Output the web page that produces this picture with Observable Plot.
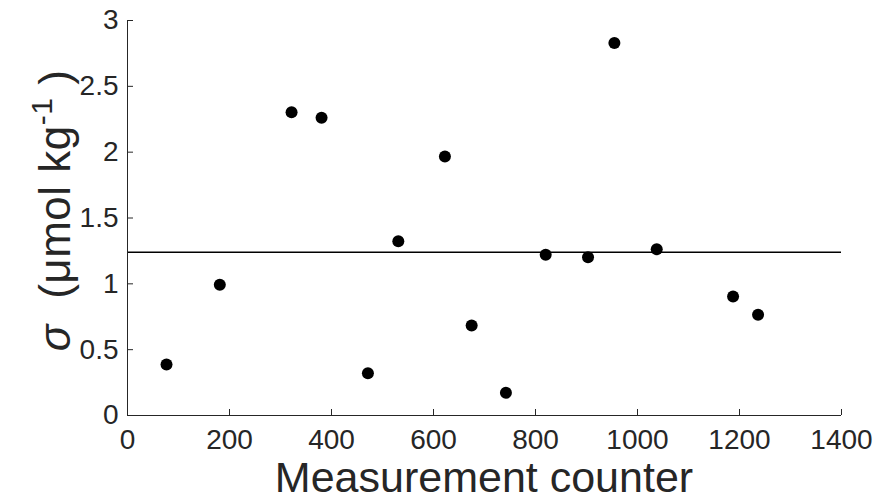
<!DOCTYPE html>
<html>
<head>
<meta charset="utf-8">
<script src="https://cdn.jsdelivr.net/npm/d3@7"></script>
<script src="https://cdn.jsdelivr.net/npm/@observablehq/plot@0.6"></script>
<style>
  html, body { margin: 0; padding: 0; background: #fff; }
  #chart svg { display: block; }
</style>
</head>
<body>
<div id="chart"></div>
<script>
// Measurement counter (x) and standard deviation sigma (y)
const counter = [76.5, 181, 321.7, 380.5, 471.4, 531, 622.4, 674.8, 742, 820, 903, 954.7, 1037.7, 1187.4, 1236.4];
const sigma   = [0.387, 0.993, 2.303, 2.261, 0.321, 1.324, 1.967, 0.684, 0.172, 1.220, 1.202, 2.830, 1.263, 0.904, 0.765];
const meanSigma = [1.24];
const xTicks = [0, 200, 400, 600, 800, 1000, 1200, 1400];
const yTicks = [0, 0.5, 1, 1.5, 2, 2.5, 3];
const xLabel = "Measurement counter";

const data = counter.map((c, i) => ({counter: c, sigma: sigma[i]}));

const W = 887, H = 502;
const mL = 127, mR = 46, mT = 20, mB = 87;
const ink = "#262626";

const chart = Plot.plot({
  width: W, height: H,
  marginLeft: mL, marginRight: mR, marginTop: mT, marginBottom: mB,
  style: {fontFamily: "'Liberation Sans', Arial, sans-serif", background: "#fff", color: ink},
  x: {domain: [0, 1400]},
  y: {domain: [0, 3]},
  marks: [
    Plot.ruleY(meanSigma, {stroke: "#000", strokeWidth: 1.5}),
    Plot.dot(data, {x: "counter", y: "sigma", r: 6, fill: "#000"}),
    Plot.ruleX([0], {stroke: ink, strokeWidth: 1}),
    Plot.ruleY([0], {stroke: ink, strokeWidth: 1}),
    Plot.axisX({ticks: xTicks, tickSize: -6, tickPadding: 20, fontSize: 28, label: null, tickFormat: d => String(d)}),
    Plot.axisY({ticks: yTicks, tickSize: -6, tickPadding: 15, fontSize: 28, label: null, tickFormat: d => String(d)})
  ]
});

const svg = d3.select(chart);
svg.append("text")
  .attr("x", mL + (W - mL - mR) / 2)
  .attr("y", 492)
  .attr("text-anchor", "middle")
  .attr("font-size", 43)
  .attr("fill", ink)
  .text(xLabel);

const yl = svg.append("text")
  .attr("transform", `translate(70,${mT + (H - mT - mB) / 2 - 7}) rotate(-90)`)
  .attr("text-anchor", "middle")
  .attr("font-size", 44)
  .attr("letter-spacing", 0.5)
  .attr("fill", ink);
yl.append("tspan").attr("font-style", "italic").text("σ");
yl.append("tspan").text("  (μmol kg");
yl.append("tspan").attr("font-size", 30).attr("dy", -18).text("-1");
yl.append("tspan").attr("dy", 18).text(" )");

document.getElementById("chart").appendChild(chart);
</script>
</body>
</html>
